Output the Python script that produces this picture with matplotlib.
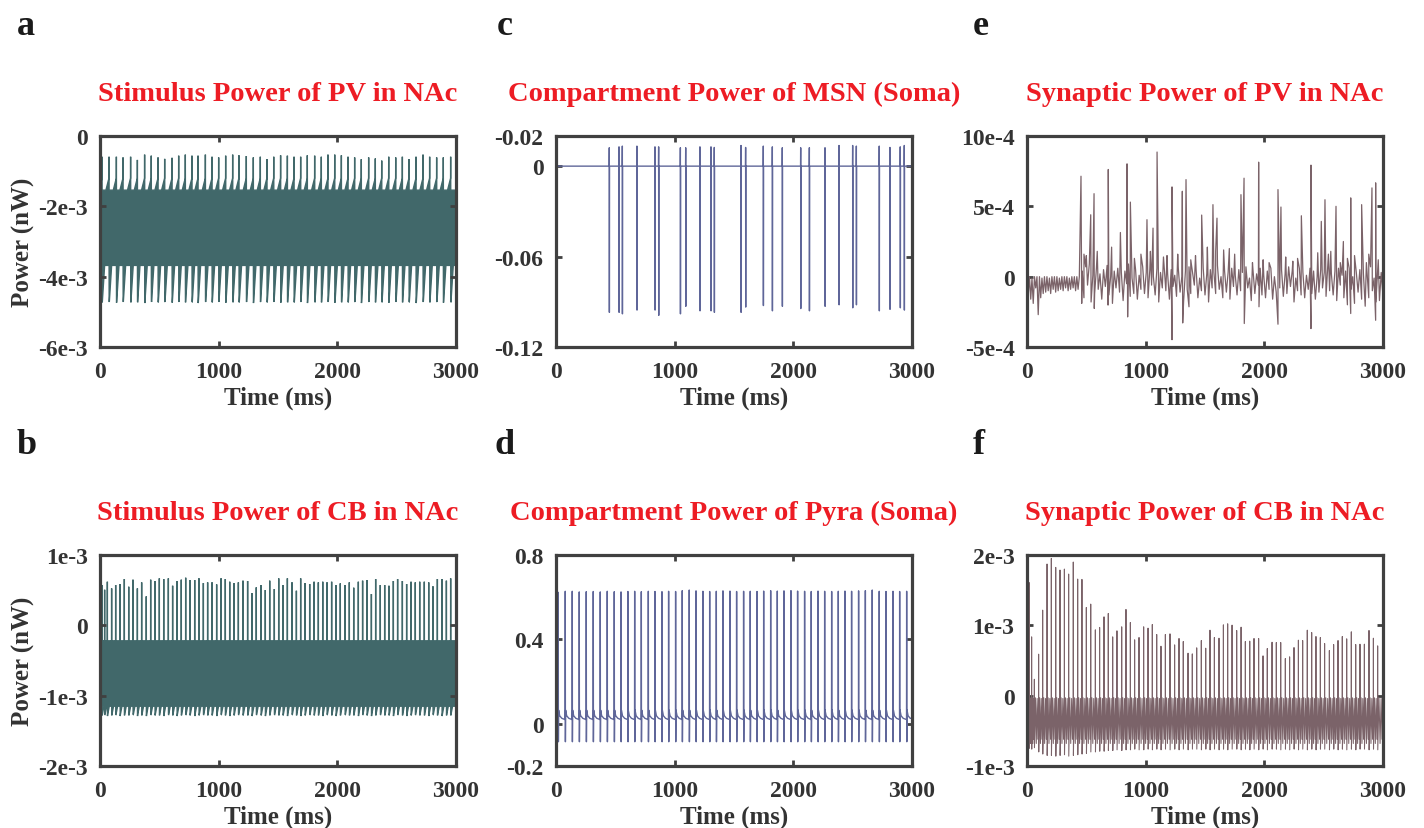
import matplotlib.pyplot as plt
import numpy as np

plt.rcParams['font.family'] = ['Liberation Serif', 'DejaVu Serif']
plt.rcParams['font.weight'] = 'bold'

time_ticks = [0, 1000, 2000, 3000]

# ---------------- a: stimulus power of PV in NAc (units 1e-3 nW) ----------------
pv_spike_t = [17, 76, 138, 194, 258, 315, 376, 432, 489, 545, 607, 663, 719, 775, 826, 888,
              944, 1000, 1059, 1118, 1171, 1233, 1292, 1351, 1407, 1464, 1522, 1579, 1635,
              1691, 1747, 1809, 1865, 1921, 1978, 2034, 2090, 2146, 2202, 2264, 2320, 2374,
              2433, 2492, 2548, 2604, 2663, 2722, 2778, 2837, 2893, 2955]
pv_stim_hi = [-0.59, -0.59, -0.59, -0.61, -0.59, -0.68, -0.53, -0.56, -0.61, -0.65,
              -0.62, -0.56, -0.53, -0.56, -0.56, -0.53, -0.59, -0.61, -0.56, -0.53,
              -0.55, -0.57, -0.61, -0.59, -0.66, -0.59, -0.55, -0.56, -0.59, -0.59,
              -0.55, -0.56, -0.59, -0.53, -0.53, -0.55, -0.59, -0.61, -0.66, -0.61,
              -0.64, -0.70, -0.59, -0.61, -0.59, -0.66, -0.59, -0.53, -0.59, -0.61,
              -0.61, -0.59]
pv_stim_lo = [-4.73, -4.70, -4.74, -4.68, -4.73, -4.72, -4.75, -4.66, -4.73, -4.71,
              -4.74, -4.69, -4.73, -4.72, -4.75, -4.70, -4.73, -4.67, -4.74, -4.72,
              -4.73, -4.70, -4.75, -4.71, -4.73, -4.68, -4.74, -4.72, -4.73, -4.70,
              -4.75, -4.72, -4.73, -4.69, -4.74, -4.72, -4.73, -4.71, -4.75, -4.70,
              -4.73, -4.72, -4.74, -4.68, -4.73, -4.72, -4.75, -4.70, -4.73, -4.71,
              -4.74, -4.72]
pv_stim_band = [-1.54, -3.68]
pv_stim_shoulder = [-1.20, -4.72]
pv_stim_start = -4.93

# ---------------- b: stimulus power of CB in NAc (units 1e-3 nW) ----------------
cb_spike_t = [17, 39, 62, 98, 132, 169, 205, 242, 278, 315, 351, 390, 427, 463, 500, 537,
              576, 612, 649, 685, 722, 758, 798, 834, 871, 907, 944, 983, 1020, 1056, 1093,
              1129, 1166, 1205, 1244, 1281, 1317, 1357, 1393, 1430, 1469, 1506, 1542, 1579,
              1618, 1655, 1691, 1728, 1767, 1804, 1840, 1877, 1913, 1952, 1989, 2025, 2065,
              2101, 2138, 2177, 2213, 2250, 2287, 2323, 2362, 2399, 2435, 2472, 2508, 2548,
              2584, 2621, 2657, 2694, 2733, 2770, 2806, 2843, 2882, 2919, 2955]
cb_stim_hi = [0.573, 0.506, 0.620, 0.525, 0.573, 0.587, 0.658, 0.549, 0.649, 0.525,
              0.611, 0.412, 0.649, 0.630, 0.668, 0.658, 0.668, 0.563, 0.630, 0.649,
              0.677, 0.644, 0.644, 0.668, 0.601, 0.611, 0.611, 0.582, 0.668, 0.658,
              0.620, 0.601, 0.611, 0.635, 0.630, 0.459, 0.540, 0.573, 0.502, 0.635,
              0.516, 0.668, 0.573, 0.668, 0.611, 0.492, 0.668, 0.601, 0.587, 0.620,
              0.611, 0.620, 0.611, 0.620, 0.573, 0.597, 0.573, 0.611, 0.535, 0.620,
              0.635, 0.644, 0.445, 0.658, 0.573, 0.573, 0.563, 0.630, 0.658, 0.630,
              0.587, 0.620, 0.611, 0.620, 0.620, 0.611, 0.554, 0.658, 0.658, 0.635,
              0.668]
cb_stim_lo = [-1.28, -1.27, -1.29, -1.28, -1.27, -1.29, -1.28, -1.28, -1.27, -1.29,
              -1.28, -1.29, -1.27, -1.28, -1.28, -1.29, -1.27, -1.28, -1.29, -1.28,
              -1.27, -1.28, -1.29, -1.28, -1.27, -1.28, -1.28, -1.29, -1.27, -1.28,
              -1.29, -1.28, -1.27, -1.28, -1.28, -1.29, -1.27, -1.28, -1.29, -1.28,
              -1.27, -1.28, -1.28, -1.29, -1.27, -1.28, -1.29, -1.28, -1.27, -1.28,
              -1.28, -1.29, -1.27, -1.28, -1.29, -1.28, -1.27, -1.28, -1.28, -1.29,
              -1.27, -1.28, -1.29, -1.28, -1.27, -1.28, -1.28, -1.29, -1.27, -1.28,
              -1.29, -1.28, -1.27, -1.28, -1.28, -1.29, -1.27, -1.28, -1.29, -1.28,
              -1.28]
cb_stim_band = [-0.22, -1.15]
cb_stim_shoulder = [-0.22, -1.27]
cb_stim_start = -1.25

# ---------------- c: compartment power of MSN soma ----------------
msn_spike_t = [449, 531, 559, 682, 834, 865, 1048, 1093, 1213, 1306, 1334, 1559, 1598,
               1747, 1823, 1907, 2062, 2135, 2267, 2385, 2500, 2531, 2724, 2814, 2901, 2935]
msn_up = [0.0122, 0.0128, 0.0133, 0.0133, 0.0128, 0.0128, 0.0122, 0.0122, 0.0128,
          0.0128, 0.0124, 0.0137, 0.0124, 0.0133, 0.0128, 0.0122, 0.0122, 0.0122,
          0.0122, 0.0137, 0.0137, 0.0133, 0.0133, 0.0124, 0.0128, 0.0137]
msn_down = [-0.097, -0.097, -0.098, -0.0955, -0.0955, -0.099, -0.098, -0.093, -0.096,
            -0.096, -0.097, -0.097, -0.0935, -0.0925, -0.096, -0.093, -0.0945, -0.096,
            -0.093, -0.092, -0.094, -0.092, -0.096, -0.095, -0.094, -0.0955]
msn_start = -0.035

# ---------------- d: compartment power of pyramidal soma ----------------
pyra_spike_t = [19, 78, 137, 196, 255, 314, 373, 432, 491, 548, 606, 663, 719, 778, 834,
                893, 949, 1008, 1064, 1123, 1180, 1238, 1295, 1351, 1407, 1466, 1522, 1581,
                1637, 1694, 1750, 1809, 1865, 1921, 1980, 2036, 2095, 2151, 2208, 2264,
                2323, 2379, 2435, 2491, 2550, 2607, 2665, 2724, 2781, 2840, 2896, 2955]
pyra_peak = [0.623, 0.628, 0.628, 0.625, 0.626, 0.627, 0.625, 0.628, 0.626, 0.625,
             0.627, 0.628, 0.626, 0.628, 0.627, 0.626, 0.628, 0.627, 0.631, 0.634,
             0.630, 0.628, 0.627, 0.628, 0.630, 0.629, 0.627, 0.628, 0.628, 0.627,
             0.629, 0.631, 0.629, 0.630, 0.631, 0.629, 0.628, 0.627, 0.629, 0.628,
             0.627, 0.628, 0.629, 0.628, 0.630, 0.631, 0.634, 0.628, 0.627, 0.628,
             0.627, 0.628]
pyra_trough = -0.085
pyra_after = [0.02, 0.065, 0.038, 0.026]   # pre-spike, after-hump, decay, rest

# ---------------- e: synaptic power of PV in NAc (units 1e-4 nW) ----------------
pv_syn_early = [0, -1.3, 0, -1.6, -0.1, -1.9, 0, -0.8, 0, -2.7, 0, -1.5, -0.1, -1.2, 0,
                -1.1, 0, -1.0, -0.1, -1.2, 0, -0.9, 0, -1.1, 0, -1.0, -0.1, -0.9, 0,
                -1.0, 0, -0.8, 0, -1.0, -0.1, -0.9, 0, -0.8, 0, -1.0, 0, -0.9, 0]
pv_syn_noise = [0.4, -1.5, 0.7, -0.6, 0.9, -1.8, 0.1, -1.2, 0.6, -0.9,
                0.2, -1.6, 0.5, -0.7, 0.8, -1.3, 0.0, -1.9, 0.4, -0.8,
                0.6, -1.1, 0.3, -1.7, 0.4, -0.5, 0.9, -1.4, -0.1, -1.2,
                0.5, -1.6, 0.1, -0.9, 0.7, -1.2, 0.3, -1.5, 0.5, -0.6,
                0.0, -1.3, 0.6, -1.8, 0.3, -0.8, 0.8, -1.0, 0.2, -1.6,
                0.5, -0.7, 0.1, -1.4, 0.6, -1.1, 0.0, -1.7, 0.4, -0.9,
                0.7, -1.2, 0.3, -0.6, 0.5, -1.5, -0.1, -1.0, 0.6, -1.3,
                0.2, -1.8, 0.5, -0.8, 0.3, -1.2, 0.8, -0.9, 0.0, -1.5,
                0.4, -1.1, 0.3, -1.6, 0.6, -0.7, 0.1, -1.3, 0.5, -1.0,
                0.3, -1.4, 0.7, -0.8, -0.1, -1.7, 0.4, -1.2, 0.2, -0.6,
                0.6, -1.3, 0.1, -1.5, 0.4, -0.9, 0.6, -1.6, 0.0, -1.1,
                0.3, -0.8, 0.5, -1.4, 0.2, -1.2, 0.7, -0.7, 0.4, -1.8,
                -0.1, -1.0, 0.6, -1.3, 0.3, -1.5, 0.1, -0.9, 0.6, -1.2,
                0.4, -1.6, 0.0, -1.1, 0.5, -0.8, 0.3, -1.4, 0.8, -1.0,
                0.2, -1.3, 0.4, -1.7, 0.6, -0.6, 0.1, -1.5, 0.4, -2.0,
                0.6, -0.9, 0.0, -1.9, 0.3, -1.1, 0.5, -1.6, 0.2, -2.1,
                0.4, -1.5, 0.7, -1.0, -0.1, -1.8, 0.4, -1.7, 0.3, -1.4]
pv_syn_up_t = [455, 480, 500, 537, 565, 592, 685, 713, 787, 843, 871, 905, 960, 1011, 1040,
               1062, 1096, 1150, 1180, 1222, 1270, 1309, 1340, 1380, 1420, 1472, 1520, 1567,
               1590, 1601, 1657, 1705, 1750, 1803, 1829, 1900, 1952, 1990, 2040, 2115, 2140,
               2180, 2240, 2280, 2312, 2393, 2450, 2480, 2511, 2540, 2560, 2604, 2640, 2666,
               2700, 2728, 2760, 2820, 2860, 2880, 2907, 2938, 2960]
pv_syn_up = [7.14, 1.6, 1.5, 4.4, 5.9, 1.8, 7.62, 2.1, 3.14, 8.02, 5.3, 1.3, 1.6, 4.05, 1.8,
             3.45, 8.86, 1.4, 1.5, 6.38, 1.6, 6.07, 6.9, 1.2, 1.5, 4.38, 2.1, 5.12,
             1.8, 4.16, 1.9, 2.0, 1.6, 5.83, 7.0, 1.0, 8.14, 1.2, 1.0, 6.19, 4.95,
             1.4, 1.1, 1.3, 4.33, 7.93, 1.7, 3.93, 5.47, 1.6, 1.8, 5.0, 1.0, 2.5,
             1.3, 5.6, 1.5, 5.12, 1.0, 1.6, 6.31, 6.67, 1.2]
pv_syn_dn_t = [461, 567, 683, 848, 1222, 1312, 1365, 1831, 1955, 2115, 2393, 2728, 2938]
pv_syn_dn = [-1.9, -2.26, -2.02, -2.86, -4.48, -3.29, -2.14, -3.33, -2.14, -3.38, -3.69,
             -2.62, -3.1]

# ---------------- f: synaptic power of CB in NAc (units 1e-3 nW) ----------------
cb_syn_peak = [1.61, 0.836, 0.233, 0.59, 1.216, 1.872, 1.952, 1.824, 1.786, 1.80,
               1.729, 1.90, 1.658, 1.653, 1.254, 1.302, 0.936, 0.97, 1.121, 1.169,
               0.836, 0.922, 0.979, 1.226, 1.041, 0.794, 0.827, 0.979, 0.96, 1.012,
               0.87, 0.703, 0.87, 0.879, 0.722, 0.813, 0.77, 0.604, 0.594, 0.68,
               0.784, 0.675, 0.931, 0.827, 0.817, 1.007, 1.022, 1.003, 0.927, 0.974,
               0.77, 0.775, 0.813, 0.813, 0.566, 0.67, 0.76, 0.756, 0.756, 0.528,
               0.552, 0.684, 0.789, 0.784, 0.931, 0.898, 0.841, 0.827, 0.741, 0.642,
               0.727, 0.784, 0.841, 0.808, 0.908, 0.727, 0.732, 0.732, 0.927, 0.817,
               0.708]
cb_syn_trough = [-0.75, -0.76, -0.74, -0.80, -0.83, -0.85, -0.85, -0.86, -0.85, -0.84,
                 -0.86, -0.85, -0.84, -0.83, -0.82, -0.80, -0.80, -0.79, -0.79, -0.78,
                 -0.78, -0.77, -0.78, -0.77, -0.77, -0.76, -0.77, -0.77, -0.76, -0.77,
                 -0.76, -0.77, -0.76, -0.77, -0.76, -0.77, -0.76, -0.77, -0.76, -0.76,
                 -0.77, -0.76, -0.77, -0.76, -0.77, -0.76, -0.77, -0.76, -0.76, -0.77,
                 -0.76, -0.77, -0.76, -0.77, -0.76, -0.77, -0.76, -0.76, -0.77, -0.76,
                 -0.77, -0.76, -0.77, -0.76, -0.77, -0.76, -0.77, -0.76, -0.76, -0.77,
                 -0.76, -0.77, -0.76, -0.77, -0.76, -0.77, -0.76, -0.76, -0.77, -0.76,
                 -0.77]
cb_syn_mid = [-0.03, -0.68, -0.04, -0.62]   # levels of the ripple between spikes

# ---------------- styling ----------------
teal = '#41686a'
blue = '#5f6699'
mauve = '#7b6369'
red = '#ed1c24'
frame = '#404040'
W, H = 1424, 829

fig = plt.figure(figsize=(W / 100, H / 100), dpi=100)


def make_ax(left, top):
    ax = fig.add_axes([left / W, 1 - (top + 211) / H, 356 / W, 211 / H])
    for s in ax.spines.values():
        s.set_linewidth(2.3)
        s.set_color(frame)
    ax.tick_params(direction='in', top=True, right=True, length=4, width=2,
                   color=frame, labelsize=17, labelcolor='#333333')
    ax.tick_params(axis='x', pad=10)
    ax.tick_params(axis='y', pad=9)
    ax.set_xlim(0, 3000)
    ax.set_xticks(time_ticks)
    ax.set_xticklabels([str(v) for v in time_ticks])
    ax.set_xlabel('Time (ms)', fontsize=18, fontweight='bold', color='#333333', labelpad=3)
    return ax


def title(ax, txt):
    ax.text(0.5, 1.203, txt, transform=ax.transAxes, ha='center', va='center',
            fontsize=20.5, fontweight='bold', color=red)


def yticks(ax, vals, labels):
    ax.set_ylim(vals[0], vals[-1])
    ax.set_yticks(vals)
    ax.set_yticklabels(labels)


def stim_band(ax, t, hi, lo, band, shoulder, start, ramp_up, ramp_dn, color):
    xu, yu = [0.0], [band[0]]
    for ti, pi in zip(t, hi):
        xu += [ti - ramp_up, ti - 0.6, ti, ti + 0.6]
        yu += [band[0], shoulder[0], pi, band[0]]
    xu.append(3000.0)
    yu.append(band[0])
    xl, yl = [0.0, 1.0], [start, band[1]]
    for ti, qi in zip(t, lo):
        xl += [ti + 0.6, ti + 1.2, ti + 2.5, ti + ramp_dn]
        yl += [band[1], qi, shoulder[1], band[1]]
    xl.append(3000.0)
    yl.append(band[1])
    ax.fill(xu + xl[::-1], yu + yl[::-1], facecolor=color, edgecolor=color, lw=1.0)


# a
ax_a = make_ax(100, 137)
stim_band(ax_a, pv_spike_t, pv_stim_hi, pv_stim_lo, pv_stim_band, pv_stim_shoulder,
          pv_stim_start, 26, 22, teal)
yticks(ax_a, [-6, -4, -2, 0], ['-6e-3', '-4e-3', '-2e-3', '0'])
ax_a.set_ylabel('Power (nW)', fontsize=18, fontweight='bold', color='#333333', labelpad=2)
title(ax_a, 'Stimulus Power of PV in NAc')

# b
ax_b = make_ax(100, 556)
stim_band(ax_b, cb_spike_t, cb_stim_hi, cb_stim_lo, cb_stim_band, cb_stim_shoulder,
          cb_stim_start, 1.5, 16, teal)
yticks(ax_b, [-2, -1, 0, 1], ['-2e-3', '-1e-3', '0', '1e-3'])
ax_b.set_ylabel('Power (nW)', fontsize=18, fontweight='bold', color='#333333', labelpad=2)
title(ax_b, 'Stimulus Power of CB in NAc')

# c
ax_c = make_ax(556, 137)
xc, yc = [0.0, 4.0], [msn_start, 0.0]
for ti, up, dn in zip(msn_spike_t, msn_up, msn_down):
    xc += [ti - 1.0, ti, ti + 0.8, ti + 2.0]
    yc += [0.0, up, dn, 0.0]
xc.append(3000.0)
yc.append(0.0)
ax_c.plot(xc, yc, color=blue, lw=1.0)
yticks(ax_c, [-0.12, -0.06, 0, 0.02], ['-0.12', '-0.06', '0', '-0.02'])
title(ax_c, 'Compartment Power of MSN (Soma)')

# d
ax_d = make_ax(556, 556)
xd, yd = [0.0], [0.0]
for ti, pk in zip(pyra_spike_t, pyra_peak):
    xd += [ti - 1.0, ti, ti + 1.2, ti + 3.0, ti + 12.0, ti + 30.0]
    yd += [pyra_after[0], pk, pyra_trough, pyra_after[1], pyra_after[2], pyra_after[3]]
xd.append(3000.0)
yd.append(pyra_after[3])
ax_d.plot(xd, yd, color=blue, lw=1.0)
yticks(ax_d, [-0.2, 0, 0.4, 0.8], ['-0.2', '0', '0.4', '0.8'])
title(ax_d, 'Compartment Power of Pyra (Soma)')

# e
ax_e = make_ax(1027, 137)
pts = [(k * 10.5, v) for k, v in enumerate(pv_syn_early)]
pts += [(465 + 15 * k, v) for k, v in enumerate(pv_syn_noise)]
pts += list(zip(pv_syn_up_t, pv_syn_up)) + list(zip(pv_syn_dn_t, pv_syn_dn))
pts.sort()
ax_e.plot([p[0] for p in pts], [p[1] for p in pts], color=mauve, lw=0.9)
yticks(ax_e, [-5, 0, 5, 10], ['-5e-4', '0', '5e-4', '10e-4'])
title(ax_e, 'Synaptic Power of PV in NAc')

# f
ax_f = make_ax(1027, 556)
xf, yf = [0.0], [-0.3]
nxt = cb_spike_t[1:] + [3000]
for ti, tn, pk, lo in zip(cb_spike_t, nxt, cb_syn_peak, cb_syn_trough):
    dt = tn - ti
    xf += [ti - 0.5, ti, ti + 1.0, ti + 0.25 * dt, ti + 0.45 * dt, ti + 0.65 * dt,
           ti + 0.82 * dt]
    yf += [-0.03, pk, lo] + cb_syn_mid
xf.append(3000.0)
yf.append(-0.05)
ax_f.plot(xf, yf, color=mauve, lw=0.75)
yticks(ax_f, [-1, 0, 1, 2], ['-1e-3', '0', '1e-3', '2e-3'])
title(ax_f, 'Synaptic Power of CB in NAc')

# panel letters
for lab, x, y in [('a', 17, 35), ('b', 17, 454), ('c', 497, 35), ('d', 494, 454),
                  ('e', 973, 35), ('f', 973, 454)]:
    fig.text(x / W, 1 - y / H, lab, fontsize=26, fontweight='bold', color='#1a1a1a',
             ha='left', va='baseline')

fig.savefig('out.png', dpi=100)
